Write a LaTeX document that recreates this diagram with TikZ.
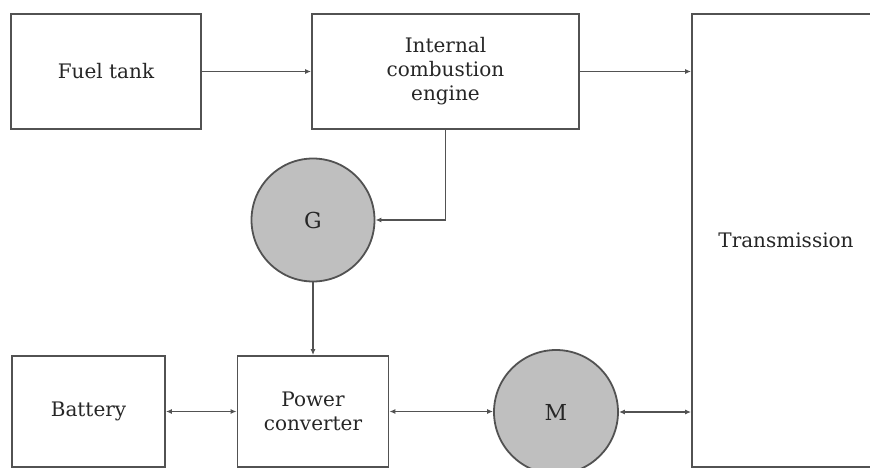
\documentclass[tikz,border=0pt]{standalone}
\usepackage{fontspec}
\setmainfont{DejaVu Serif}
\usepackage{tikz}
\usetikzlibrary{arrows.meta,positioning}
\tikzset{
  box/.style={draw=black!68, line width=1.8pt, rectangle, align=center,
    inner sep=4pt, font=\fontsize{20}{24}\selectfont, text=black!85},
  circ/.style={draw=black!68, line width=1.8pt, circle, fill=black!25,
    inner sep=0pt, font=\fontsize{22}{24}\selectfont, text=black!85},
  arr/.style={-{Latex[length=6pt,width=5pt]}, line width=1.6pt, draw=black!68},
  darr/.style={{Latex[length=6pt,width=5pt]}-{Latex[length=6pt,width=5pt]},
    line width=1.6pt, draw=black!68}
}

\begin{document}
\begin{tikzpicture}[x=1pt, y=-1pt]
\useasboundingbox (0,0) rectangle (870,468);
\clip (0,0) rectangle (870,468);

\node[box, minimum width=190pt, minimum height=115pt] (fuel) at (106,71.5) {Fuel tank};
\node[box, minimum width=267pt, minimum height=115pt] (ice) at (445.5,71.5) {Internal\\
combustion\\engine};
\node[box, minimum width=188pt, minimum height=453pt] (trans) at (786,240.5) {Transmission};
\node[circ, minimum size=123pt] (gen) at (313,220) {G};
\node[box, minimum width=153pt, minimum height=111pt] (batt) at (88.5,411.5) {Battery};
\node[box, minimum width=151pt, minimum height=111pt] (conv) at (313,411.5) {Power\\
converter};
\node[circ, minimum size=124pt] (mot) at (556,412) {M};

\draw[arr] (fuel) -- (ice);
\draw[arr] (ice.east) -- (ice.east -| trans.west);
\draw[arr] (ice.south) |- (gen.east);
\draw[arr] (gen) -- (conv);
\draw[darr] (batt) -- (conv);
\draw[darr] (conv.east) -- (conv.east -| mot.west);
\draw[darr] (mot.east) -- (mot.east -| trans.west);
\end{tikzpicture}
\end{document}
